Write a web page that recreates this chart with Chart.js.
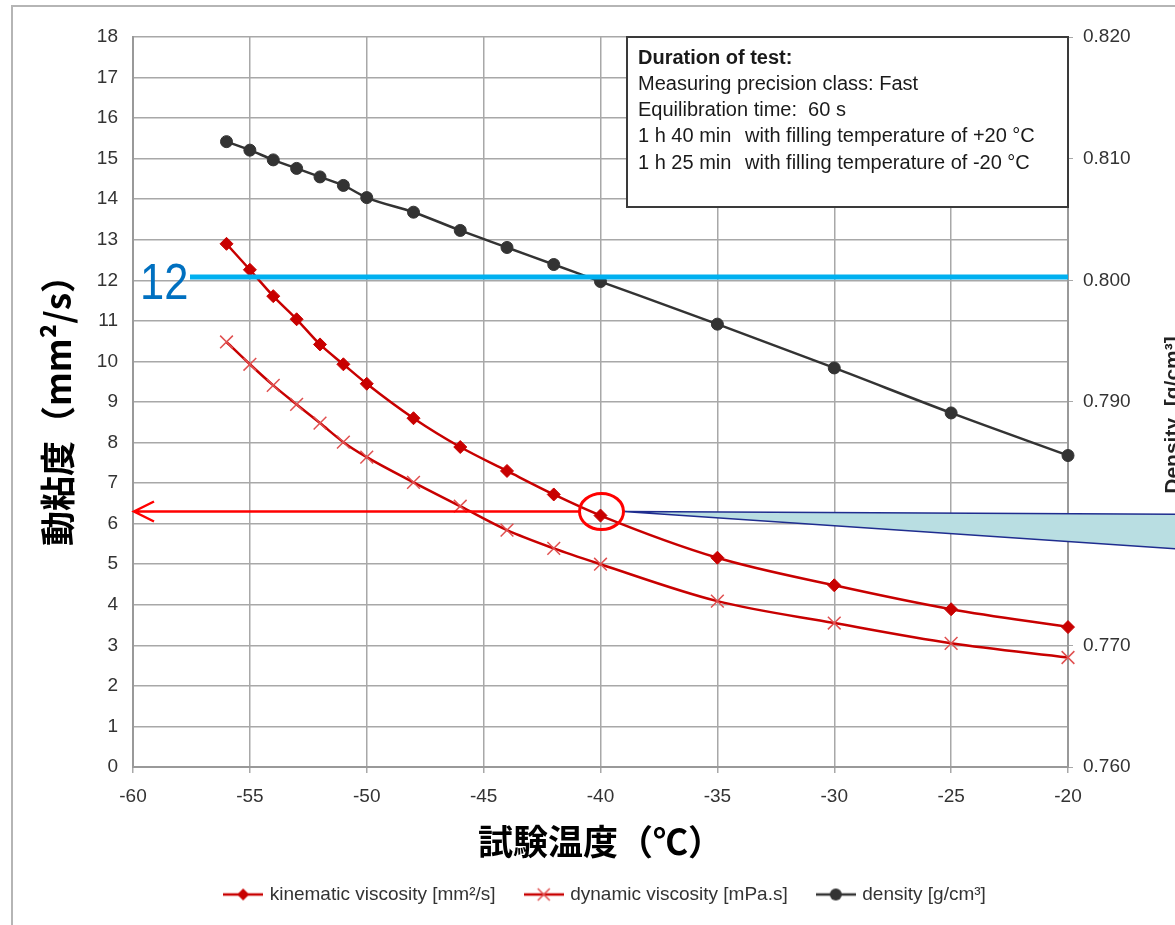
<!DOCTYPE html>
<html>
<head>
<meta charset="utf-8">
<title>動粘度 / 試験温度</title>
<script src="https://cdn.jsdelivr.net/npm/chart.js@4.4.1/dist/chart.umd.min.js"></script>
<style>
  html, body { margin: 0; padding: 0; background: #fff; }
  #wrap { width: 1175px; height: 925px; }
</style>
</head>
<body>
<div id="wrap"><canvas id="myChart" width="1175" height="925"></canvas></div>
<script>
// test temperatures [°C]
const temps = [-56, -55, -54, -53, -52, -51, -50, -48, -46, -44, -42, -40, -35, -30, -25, -20];
// kinematic viscosity [mm²/s]
const kinematic = [12.90, 12.26, 11.61, 11.04, 10.42, 9.93, 9.45, 8.60, 7.89, 7.30, 6.72, 6.20, 5.16, 4.48, 3.89, 3.45];
// dynamic viscosity [mPa.s]
const dynamic = [10.48, 9.93, 9.41, 8.94, 8.48, 8.01, 7.64, 7.02, 6.43, 5.84, 5.39, 5.00, 4.09, 3.55, 3.05, 2.70];
// density [g/cm³]
const density = [0.8114, 0.8107, 0.8099, 0.8092, 0.8085, 0.8078, 0.8068, 0.8056, 0.8041, 0.8027, 0.8013, 0.7999, 0.7964, 0.7928, 0.7891, 0.7856];

const seriesLabels = ['kinematic viscosity [mm²/s]', 'dynamic viscosity [mPa.s]', 'density [g/cm³]'];

const tempTicks = [-60, -55, -50, -45, -40, -35, -30, -25, -20];
const viscTicks = [0, 1, 2, 3, 4, 5, 6, 7, 8, 9, 10, 11, 12, 13, 14, 15, 16, 17, 18];
const densityTicks = [0.760, 0.770, 0.780, 0.790, 0.800, 0.810, 0.820];

// annotations
const markLevel = 12.08;
const markText = '12';
const readTemp = -40;
const readLevel = 6.3;
const noteTitle = 'Duration of test:';
const noteLines = [
  ['Measuring precision class: Fast', ''],
  ['Equilibration time:  60 s', ''],
  ['1 h 40 min', 'with filling temperature of +20 °C'],
  ['1 h 25 min', 'with filling temperature of -20 °C']
];

const RED = '#c80000';
const GRID = '#a8a8a8';

Chart.defaults.font.family = "'Liberation Sans', Arial, sans-serif";
Chart.defaults.font.size = 19;
Chart.defaults.color = '#333';

function legendIcon(color, style) {
  const c = document.createElement('canvas');
  c.width = 40; c.height = 18;
  const g = c.getContext('2d');
  g.strokeStyle = color;
  g.fillStyle = color;
  g.lineWidth = 2.5;
  g.beginPath(); g.moveTo(0, 9); g.lineTo(40, 9); g.stroke();
  if (style == 'diamond') {
    g.beginPath(); g.moveTo(20, 3); g.lineTo(26, 9); g.lineTo(20, 15); g.lineTo(14, 9); g.closePath(); g.fill();
  } else if (style == 'cross') {
    g.strokeStyle = '#e05050'; g.lineWidth = 1.5;
    g.beginPath(); g.moveTo(14, 3); g.lineTo(26, 15); g.moveTo(26, 3); g.lineTo(14, 15); g.stroke();
  } else {
    g.beginPath(); g.arc(20, 9, 6, 0, Math.PI * 2); g.fill();
  }
  return c;
}
const icons = [legendIcon(RED, 'diamond'), legendIcon(RED, 'cross'), legendIcon('#333', 'circle')];

const annotations = {
  id: 'annotations',
  afterDraw(chart) {
    const {ctx, chartArea} = chart;
    const xs = chart.scales.x, ys = chart.scales.y;
    ctx.save();

    // right axis title (reads bottom to top)
    ctx.save();
    ctx.translate(1179, 415);
    ctx.rotate(-Math.PI / 2);
    ctx.font = "bold 21px 'Liberation Sans', Arial, sans-serif";
    ctx.fillStyle = '#222';
    ctx.textAlign = 'center';
    ctx.textBaseline = 'alphabetic';
    ctx.fillText('Density  [g/cm³]', 0, 0);
    ctx.restore();

    // callout wedge
    const cx = xs.getPixelForValue(readTemp) + 1;
    const cy = ys.getPixelForValue(readLevel);
    ctx.beginPath();
    ctx.moveTo(cx + 22, cy);
    ctx.lineTo(1200, cy + 3);
    ctx.lineTo(1200, cy + 39);
    ctx.closePath();
    ctx.fillStyle = '#b9dee2';
    ctx.fill();
    ctx.strokeStyle = '#1f2d8f';
    ctx.lineWidth = 1.5;
    ctx.stroke();

    // blue level line
    const by = ys.getPixelForValue(markLevel);
    ctx.strokeStyle = '#00b0f0';
    ctx.lineWidth = 5;
    ctx.beginPath(); ctx.moveTo(190, by); ctx.lineTo(chartArea.right, by); ctx.stroke();
    ctx.save();
    ctx.translate(140, by + 22);
    ctx.scale(0.87, 1);
    ctx.font = "50px 'Liberation Sans', Arial, sans-serif";
    ctx.fillStyle = '#0070c0';
    ctx.textBaseline = 'alphabetic';
    ctx.fillText(markText, 0, 0);
    ctx.restore();

    // red read-off arrow
    ctx.strokeStyle = '#ff0000';
    ctx.lineWidth = 2.5;
    ctx.beginPath();
    ctx.moveTo(cx - 22, cy); ctx.lineTo(chartArea.left + 1, cy);
    ctx.moveTo(chartArea.left + 21, cy - 10); ctx.lineTo(chartArea.left + 1, cy); ctx.lineTo(chartArea.left + 21, cy + 10);
    ctx.stroke();
    ctx.lineWidth = 3;
    ctx.beginPath();
    ctx.ellipse(cx, cy, 22, 18, 0, 0, Math.PI * 2);
    ctx.stroke();

    // note box
    const bx = 627, bTop = chartArea.top, bw = chartArea.right - 627, bh = 170;
    ctx.fillStyle = '#fff';
    ctx.fillRect(bx, bTop, bw, bh);
    ctx.strokeStyle = '#3a3a3a';
    ctx.lineWidth = 2;
    ctx.strokeRect(bx, bTop, bw, bh);
    ctx.fillStyle = '#1a1a1a';
    ctx.textBaseline = 'middle';
    ctx.textAlign = 'left';
    ctx.font = "bold 20px 'Liberation Sans', Arial, sans-serif";
    ctx.fillText(noteTitle, bx + 11, bTop + 21);
    ctx.font = "20px 'Liberation Sans', Arial, sans-serif";
    noteLines.forEach((line, i) => {
      const ly = bTop + 47 + i * 26.4;
      ctx.fillText(line[0], bx + 11, ly);
      if (line[1]) ctx.fillText(line[1], bx + 118, ly);
    });

    // outer frame
    ctx.strokeStyle = '#b5b5b5';
    ctx.lineWidth = 2;
    ctx.strokeRect(12, 6, 1200, 1000);
    ctx.restore();
  }
};

const ctx = document.getElementById('myChart');

new Chart(ctx, {
  type: 'line',
  data: {
    datasets: [
      {
        label: seriesLabels[0],
        data: temps.map((t, i) => ({x: t, y: kinematic[i]})),
        borderColor: RED,
        backgroundColor: RED,
        borderWidth: 2.5,
        pointStyle: 'rectRot',
        pointRadius: 6.5,
        pointBorderWidth: 1,
        cubicInterpolationMode: 'monotone',
        yAxisID: 'y',
        clip: false
      },
      {
        label: seriesLabels[1],
        data: temps.map((t, i) => ({x: t, y: dynamic[i]})),
        borderColor: RED,
        backgroundColor: '#e05050',
        borderWidth: 2.5,
        pointStyle: 'crossRot',
        pointRadius: 9,
        pointBorderColor: '#e05050',
        pointBorderWidth: 1.5,
        cubicInterpolationMode: 'monotone',
        yAxisID: 'y',
        clip: false
      },
      {
        label: seriesLabels[2],
        data: temps.map((t, i) => ({x: t, y: density[i]})),
        borderColor: '#333',
        backgroundColor: '#333',
        borderWidth: 2.5,
        pointStyle: 'circle',
        pointRadius: 6,
        pointBorderWidth: 1,
        cubicInterpolationMode: 'monotone',
        yAxisID: 'y1',
        clip: false
      }
    ]
  },
  options: {
    responsive: false,
    animation: false,
    devicePixelRatio: 1,
    layout: { padding: { left: 37, right: 0, top: 37, bottom: 11 } },
    scales: {
      x: {
        type: 'linear',
        min: -60,
        max: -20,
        afterBuildTicks: scale => { scale.ticks = tempTicks.map(v => ({value: v})); },
        afterFit: scale => { scale.height = 108; },
        grid: { color: GRID, lineWidth: 1.5, tickLength: 6, tickColor: GRID },
        border: { color: '#999', width: 2 },
        ticks: { padding: 12, color: '#333', font: { size: 19 } },
        title: {
          display: true,
          text: '試験温度（℃）',
          color: '#000',
          font: { family: "'Noto Sans CJK JP', sans-serif", size: 35, weight: 'bold' },
          padding: { top: 0, bottom: 12 }
        }
      },
      y: {
        position: 'left',
        min: 0,
        max: 18,
        afterBuildTicks: scale => { scale.ticks = viscTicks.map(v => ({value: v})); },
        afterFit: scale => { scale.width = 96; },
        grid: { color: GRID, lineWidth: 1.5, drawTicks: false },
        border: { color: '#999', width: 2 },
        ticks: { padding: 15, color: '#333', font: { size: 19 } },
        title: {
          display: true,
          text: '動粘度（mm²/s）',
          color: '#000',
          font: { family: "'Noto Sans CJK JP', sans-serif", size: 35, weight: 'bold' },
          padding: { top: 0, bottom: 0 }
        }
      },
      y1: {
        position: 'right',
        min: 0.76,
        max: 0.82,
        afterBuildTicks: scale => { scale.ticks = densityTicks.map(v => ({value: v})); },
        afterFit: scale => { scale.width = 107; },
        grid: { drawOnChartArea: false, tickLength: 5, color: GRID, tickColor: GRID },
        border: { color: '#999', width: 2 },
        ticks: { padding: 10, color: '#333', font: { size: 19 }, callback: v => Number(v).toFixed(3) }
      }
    },
    plugins: {
      legend: {
        position: 'bottom',
        labels: {
          usePointStyle: true,
          pointStyleWidth: 34,
          padding: 10,
          color: '#333',
          font: { size: 19 },
          generateLabels(chart) {
            const items = Chart.defaults.plugins.legend.labels.generateLabels(chart);
            items.forEach((item, i) => {
              item.pointStyle = icons[i];
              if (i < items.length - 1) item.text = item.text + '    ';
            });
            return items;
          }
        }
      },
      tooltip: { enabled: false }
    }
  },
  plugins: [annotations]
});
</script>
</body>
</html>
